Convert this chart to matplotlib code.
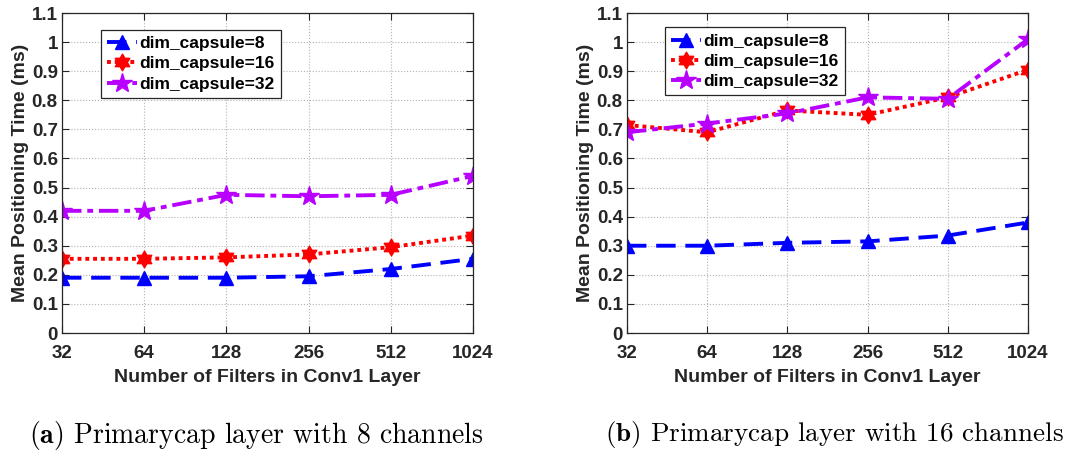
import numpy as np
import matplotlib
matplotlib.use('Agg')
import matplotlib.pyplot as plt
from matplotlib.path import Path

filters = [32, 64, 128, 256, 512, 1024]
labels = ['dim_capsule=8', 'dim_capsule=16', 'dim_capsule=32']

# primarycap layer with 8 channels
ch8_dim8 = [0.19, 0.19, 0.19, 0.195, 0.22, 0.255]
ch8_dim16 = [0.255, 0.255, 0.26, 0.27, 0.295, 0.335]
ch8_dim32 = [0.42, 0.42, 0.475, 0.47, 0.475, 0.54]

# primarycap layer with 16 channels
ch16_dim8 = [0.30, 0.30, 0.31, 0.315, 0.335, 0.38]
ch16_dim16 = [0.715, 0.69, 0.765, 0.75, 0.81, 0.905]
ch16_dim32 = [0.69, 0.72, 0.755, 0.81, 0.805, 1.01]

captions = ['Primarycap layer with 8 channels', 'Primarycap layer with 16 channels']

# six-pointed star marker (matlab 'h')
ang = np.pi / 2 + np.arange(12) * np.pi / 6
rad = np.where(np.arange(12) % 2 == 0, 1.0, 0.58)
verts = np.column_stack([rad * np.cos(ang), rad * np.sin(ang)])
verts = np.vstack([verts, verts[:1]])
hexagram = Path(verts, [Path.MOVETO] + [Path.LINETO] * 11 + [Path.CLOSEPOLY])

purple = (0.72, 0.0, 1.0)
styles = [
    dict(color='b', ls=(0, (5, 2.5)), marker='^', ms=10),
    dict(color='r', ls=(0, (1, 1)), marker=hexagram, ms=12),
    dict(color=purple, ls=(0, (5, 1.5, 1.5, 1.5)), marker='*', ms=15),
]

font = 'Liberation Sans'
dark = '#262626'
fig = plt.figure(figsize=(10.75, 4.51), dpi=100)
ax1 = fig.add_axes([62 / 1075, 1 - 333 / 451, 411 / 1075, 320 / 451])
ax2 = fig.add_axes([627 / 1075, 1 - 333 / 451, 401 / 1075, 320 / 451])

x = np.arange(len(filters))
panels = [(ax1, [ch8_dim8, ch8_dim16, ch8_dim32]),
          (ax2, [ch16_dim8, ch16_dim16, ch16_dim32])]

for ax, series in panels:
    for ys, lab, st in zip(series, labels, styles):
        ax.plot(x, ys, lw=2.8, label=lab, **st)
    ax.set_xlim(0, 5)
    ax.set_ylim(0, 1.1)
    ax.set_xticks(x)
    ax.set_xticklabels([str(f) for f in filters])
    ax.set_yticks(np.arange(0, 1.11, 0.1))
    ax.set_yticklabels(['0'] + ['%g' % v for v in np.arange(0.1, 1.11, 0.1)])
    ax.grid(True, ls=':', color='0.7', lw=0.8)
    ax.tick_params(direction='in', top=True, right=True, length=5, width=0.8,
                   labelsize=13.5, colors=dark, labelcolor=dark)
    ax.tick_params(axis='x', pad=9)
    ax.tick_params(axis='y', pad=3)
    for t in ax.get_xticklabels() + ax.get_yticklabels():
        t.set_fontweight('bold')
        t.set_family(font)
    for sp in ax.spines.values():
        sp.set_color(dark)
        sp.set_linewidth(0.9)
    ax.set_xlabel('Number of Filters in Conv1 Layer', fontsize=14, fontweight='bold',
                  family=font, color=dark, labelpad=5)
    ax.set_ylabel('Mean Positioning Time (ms)', fontsize=14, fontweight='bold',
                  family=font, color=dark, labelpad=2)

leg_kw = dict(prop={'family': font, 'weight': 'bold', 'size': 12.5}, fancybox=False,
              edgecolor=dark, framealpha=1, handlelength=1.7, handletextpad=0.15,
              borderpad=0.35, labelspacing=0.3, borderaxespad=0)
leg1 = ax1.legend(loc='upper left', bbox_to_anchor=(0.095, 0.948), **leg_kw)
leg2 = ax2.legend(loc='upper left', bbox_to_anchor=(0.095, 0.955), **leg_kw)
for leg in (leg1, leg2):
    leg.get_frame().set_linewidth(0.9)

plt.rcParams['mathtext.fontset'] = 'cm'
fig.text(256 / 1075, 1 - 435 / 451, r'$\mathbf{(a)}$ ' + captions[0], family='cmr10',
         fontsize=20, ha='center', va='center')
fig.text(834 / 1075, 1 - 435 / 451, r'$\mathbf{(b)}$ ' + captions[1], family='cmr10',
         fontsize=19.5, ha='center', va='center')

fig.savefig('out.png', dpi=100)
